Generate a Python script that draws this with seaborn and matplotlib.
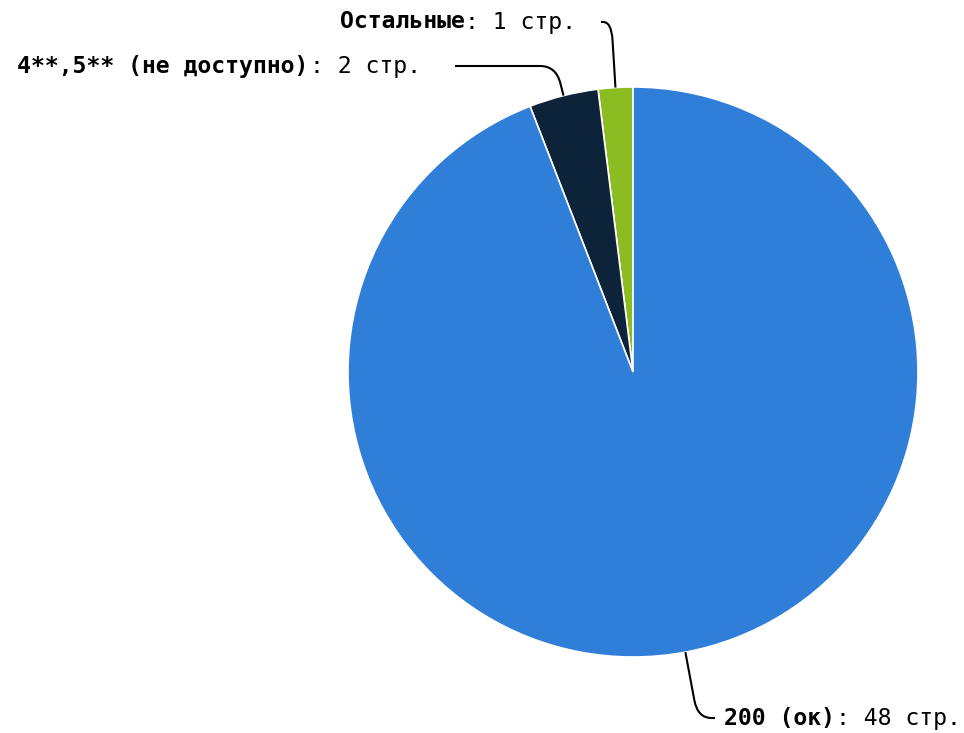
import numpy as np
import seaborn as sns
import matplotlib.pyplot as plt
from matplotlib.path import Path
from matplotlib.patches import PathPatch

# data (pie goes counter-clockwise from 12 o'clock)
bold_names = ['Остальные', '4**,5** (не доступно)', '200 (ок)']
counts = [1, 2, 48]
colors = sns.color_palette(['#8bbc21', '#0d233a', '#2f7ed8'])

W, H = 964, 733
sns.set_style('white')
plt.rcParams['font.family'] = ['DejaVu Sans Mono', 'DejaVu Sans']

fig = plt.figure(figsize=(W / 100, H / 100), dpi=100)
ax = fig.add_axes([0, 0, 1, 1])

# pie geometry in pixel coords (y up)
cx, cy, R = 633, H - 372, 285
wedges, _ = ax.pie(counts, colors=colors, startangle=90, counterclock=True,
                   radius=R, center=(cx, cy),
                   wedgeprops=dict(edgecolor='white', linewidth=1.2))
ax.set_xlim(0, W)
ax.set_ylim(0, H)
ax.set_aspect('equal')
ax.axis('off')

fs = 16.7
cw = 0.602 * fs * 100 / 72  # monospace advance in px

# label layout: (y of label line in px from top, end x of connector, gap to text)
label_y = [22, 66, 718]
line_end_x = [601, 455, 715]
text_gap = [24, 33, 9]

angles = []
acc = 0
for c in counts:
    angles.append(90 + (acc + c / 2) / sum(counts) * 360)
    acc += c

for name, n, ang, ly, ex, gap in zip(bold_names, counts, angles, label_y, line_end_x, text_gap):
    a = np.deg2rad(ang)
    x0, y0 = cx + R * np.cos(a), cy + R * np.sin(a)
    yl = H - ly
    # elbow along radial direction at label height
    t = (yl - y0) / np.sin(a)
    xe = x0 + t * np.cos(a)
    d = np.hypot(xe - x0, yl - y0)
    k = min(18, d * 0.6)
    xa = xe - k * np.cos(a) * np.sign(t)
    ya = yl - k * np.sin(a) * np.sign(t)
    direction = np.sign(ex - xe)
    xb = xe + direction * min(16, abs(ex - xe) * 0.8)
    path = Path([(x0, y0), (xa, ya), (xe, yl), (xb, yl), (ex, yl)],
                [Path.MOVETO, Path.LINETO, Path.CURVE3, Path.CURVE3, Path.LINETO])
    ax.add_patch(PathPatch(path, fill=False, edgecolor='black', linewidth=1.5))

    rest = ': %d стр.' % n
    total = (len(name) + len(rest)) * cw
    if direction < 0:
        xs = ex - gap - total
    else:
        xs = ex + gap
    ax.text(xs, yl, name, fontsize=fs, fontweight='bold', ha='left', va='center', color='black')
    ax.text(xs + len(name) * cw, yl, rest, fontsize=fs, ha='left', va='center', color='black')

plt.savefig('out.png', dpi=100)
